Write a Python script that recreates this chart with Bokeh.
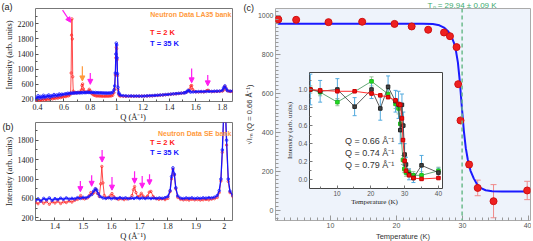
from bokeh.plotting import figure
from bokeh.models import (Range1d, GridBox, Arrow, NormalHead, Label, Legend, LegendItem,
                          ColumnDataSource, Whisker, TeeHead, Span, FixedTicker)
from bokeh.embed import file_html
from bokeh.resources import INLINE

# ---------------- data: panel (a) LA35 bank ----------------
a_blue_q = [
    0.385, 0.395, 0.405, 0.415, 0.425, 0.435, 0.445, 0.455, 0.465, 0.475,
    0.485, 0.495, 0.505, 0.515, 0.525, 0.535, 0.545, 0.555, 0.565, 0.575,
    0.585, 0.595, 0.61, 0.62, 0.63, 0.64, 0.65, 0.66, 0.67, 0.68,
    0.69, 0.70, 0.71, 0.72, 0.73, 0.74, 0.75, 0.76, 0.77, 0.78,
    0.79, 0.80, 0.81, 0.82, 0.83, 0.84, 0.85, 0.86, 0.87, 0.88,
    0.89, 0.90, 0.91, 0.92, 0.93, 0.94, 0.95, 0.96, 0.97, 0.98,
    0.985, 0.990, 0.994, 0.997, 1.000, 1.003, 1.006, 1.010, 1.015, 1.02,
    1.03, 1.05, 1.07, 1.09, 1.11, 1.13, 1.15, 1.17, 1.19, 1.21,
    1.23, 1.25, 1.27, 1.29, 1.31, 1.33, 1.35, 1.37, 1.39, 1.41,
    1.43, 1.45, 1.47, 1.49, 1.51, 1.52, 1.53, 1.54, 1.55, 1.56,
    1.58, 1.60, 1.62, 1.64, 1.66, 1.68, 1.70, 1.72, 1.74, 1.76,
    1.78, 1.80, 1.81, 1.82, 1.83, 1.84, 1.86, 1.88]
a_blue_I = [
    260, 210, 300, 230, 280, 240, 310, 250, 290, 270,
    320, 260, 300, 285, 330, 290, 320, 300, 345, 310,
    340, 330, 350, 345, 365, 350, 372, 360, 375, 368,
    380, 372, 385, 375, 382, 378, 390, 380, 386, 392,
    384, 390, 380, 388, 378, 384, 375, 380, 372, 378,
    370, 375, 368, 372, 366, 372, 370, 375, 390, 450,
    560, 900, 1400, 1690, 1640, 1300, 880, 520, 380, 340,
    310, 300, 295, 290, 295, 288, 292, 290, 288, 292,
    295, 300, 302, 308, 312, 318, 322, 330, 335, 342,
    350, 355, 362, 368, 375, 382, 400, 440, 430, 395,
    400, 405, 408, 410, 408, 412, 415, 412, 418, 420,
    422, 440, 510, 560, 480, 430, 420, 425]
a_red_q = [
    0.385, 0.395, 0.405, 0.415, 0.425, 0.435, 0.445, 0.455, 0.465, 0.475,
    0.485, 0.495, 0.505, 0.515, 0.525, 0.535, 0.545, 0.555, 0.565, 0.575,
    0.585, 0.595, 0.605, 0.615, 0.625, 0.635, 0.645, 0.651, 0.655, 0.658,
    0.661, 0.664, 0.667, 0.671, 0.676, 0.685, 0.695, 0.705, 0.715, 0.725,
    0.732, 0.737, 0.742, 0.748, 0.755, 0.765, 0.775, 0.785, 0.792, 0.80,
    0.81, 0.82, 0.83, 0.84, 0.85, 0.86, 0.87, 0.88, 0.89, 0.90,
    0.91, 0.92, 0.93, 0.94, 0.95, 0.96, 0.97, 0.98, 0.985, 0.990,
    0.994, 0.997, 1.000, 1.003, 1.006, 1.010, 1.015, 1.02, 1.03, 1.05,
    1.07, 1.09, 1.11, 1.13, 1.15, 1.17, 1.19, 1.21, 1.23, 1.25,
    1.27, 1.29, 1.31, 1.33, 1.35, 1.37, 1.39, 1.41, 1.43, 1.45,
    1.47, 1.49, 1.51, 1.53, 1.545, 1.555, 1.562, 1.568, 1.575, 1.585,
    1.60, 1.62, 1.64, 1.66, 1.675, 1.685, 1.692, 1.70, 1.72, 1.74,
    1.76, 1.78, 1.80, 1.81, 1.818, 1.826, 1.835, 1.85, 1.865, 1.88]
a_red_I = [
    170, 150, 200, 160, 190, 170, 215, 180, 205, 195,
    225, 200, 235, 215, 240, 225, 255, 235, 260, 250,
    270, 265, 285, 275, 300, 295, 320, 360, 900, 1900,
    2330, 1800, 800, 420, 370, 385, 372, 390, 380, 400,
    450, 570, 610, 480, 410, 395, 390, 420, 470, 430,
    360, 330, 310, 300, 290, 296, 288, 292, 285, 290,
    284, 290, 286, 288, 292, 295, 310, 380, 480, 850,
    1300, 1580, 1540, 1250, 830, 460, 340, 300, 290, 285,
    282, 286, 283, 288, 284, 286, 290, 288, 292, 295,
    298, 304, 308, 314, 318, 326, 330, 338, 344, 350,
    358, 365, 375, 395, 430, 480, 560, 570, 470, 420,
    402, 398, 405, 400, 415, 435, 445, 425, 408, 410,
    412, 415, 420, 450, 540, 510, 440, 418, 412, 415]
a_arrow_x0 = [0.59, 0.80, 1.568, 1.69]
a_arrow_y0 = [2560, 900, 1020, 850]
a_arrow_x1 = [0.651, 0.80, 1.568, 1.69]
a_arrow_y1 = [2240, 600, 640, 560]
a_orange_x = [0.74]
a_orange_y0 = [1080]
a_orange_y1 = [690]
a_xticks = [0.4, 0.6, 0.8, 1.0, 1.2, 1.4, 1.6, 1.8]
a_xlabels = ["0.4", "0.6", "0.8", "1", "1.2", "1.4", "1.6", "1.8"]
a_xminor = [0.5, 0.7, 0.9, 1.1, 1.3, 1.5, 1.7]
a_yticks = [200, 600, 1000, 1400, 1800, 2200]
a_yminor = [400, 800, 1200, 1600, 2000, 2400]

# ---------------- data: panel (b) SE bank ----------------
b_blue_q = [
    1.331, 1.34, 1.35, 1.36, 1.37, 1.38, 1.39, 1.40, 1.41, 1.42,
    1.43, 1.44, 1.45, 1.46, 1.47, 1.48, 1.49, 1.50, 1.51, 1.52,
    1.53, 1.537, 1.543, 1.548, 1.553, 1.56, 1.57, 1.58, 1.59, 1.60,
    1.61, 1.62, 1.63, 1.64, 1.65, 1.66, 1.67, 1.68, 1.69, 1.70,
    1.71, 1.72, 1.73, 1.74, 1.75, 1.76, 1.77, 1.78, 1.79, 1.80,
    1.808, 1.813, 1.818, 1.823, 1.828, 1.835, 1.845, 1.855, 1.865, 1.875,
    1.885, 1.895, 1.905, 1.915, 1.925, 1.935, 1.945, 1.955, 1.965, 1.975,
    1.982, 1.988, 1.993, 1.998, 2.003, 2.008, 2.014, 2.02, 2.03]
b_blue_I = [
    560, 590, 545, 600, 570, 610, 560, 595, 575, 605,
    580, 610, 585, 600, 590, 615, 600, 620, 610, 640,
    680, 750, 800, 770, 700, 640, 610, 600, 615, 595,
    610, 598, 615, 600, 612, 595, 608, 600, 615, 598,
    610, 600, 612, 598, 608, 600, 610, 602, 615, 640,
    760, 1050, 1230, 1100, 820, 650, 605, 598, 610, 600,
    612, 598, 608, 600, 612, 605, 615, 610, 625, 660,
    760, 1000, 1600, 2400, 2600, 1800, 1000, 750, 660]
b_red_q = [
    1.331, 1.34, 1.35, 1.36, 1.37, 1.38, 1.39, 1.40, 1.41, 1.42,
    1.43, 1.44, 1.45, 1.46, 1.47, 1.48, 1.486, 1.491, 1.497, 1.505,
    1.515, 1.522, 1.527, 1.532, 1.538, 1.545, 1.551, 1.557, 1.562, 1.566,
    1.570, 1.575, 1.582, 1.590, 1.597, 1.602, 1.608, 1.615, 1.625, 1.635,
    1.645, 1.655, 1.665, 1.673, 1.678, 1.682, 1.687, 1.693, 1.700, 1.706,
    1.712, 1.720, 1.728, 1.734, 1.740, 1.748, 1.758, 1.768, 1.778, 1.790,
    1.800, 1.808, 1.813, 1.818, 1.823, 1.828, 1.835, 1.845, 1.855, 1.865,
    1.875, 1.885, 1.895, 1.905, 1.915, 1.925, 1.935, 1.945, 1.955, 1.965,
    1.975, 1.982, 1.988, 1.993, 1.998, 2.003, 2.008, 2.014, 2.02, 2.03]
b_red_I = [
    520, 490, 545, 500, 535, 480, 530, 505, 540, 495,
    530, 515, 545, 525, 560, 580, 610, 660, 600, 590,
    610, 660, 720, 690, 720, 790, 700, 640, 900, 1260,
    920, 660, 610, 620, 660, 700, 640, 600, 580, 595,
    575, 590, 600, 660, 780, 845, 720, 630, 650, 705,
    650, 610, 650, 730, 745, 640, 595, 580, 590, 575,
    600, 740, 1000, 1200, 1080, 800, 620, 580, 570, 575,
    565, 580, 570, 575, 565, 572, 578, 570, 585, 595,
    620, 720, 960, 1550, 2300, 2500, 1700, 950, 720, 640]
b_arrow_x = [1.49, 1.53, 1.567, 1.602, 1.682, 1.709, 1.735]
b_arrow_y0 = [960, 1080, 1600, 1040, 1160, 1060, 1100]
b_arrow_y1 = [740, 850, 1350, 770, 910, 810, 880]
b_xticks = [1.4, 1.5, 1.6, 1.7, 1.8, 1.9, 2.0]
b_xlabels = ["1.4", "1.5", "1.6", "1.7", "1.8", "1.9", "2"]
b_xminor = [1.35, 1.45, 1.55, 1.65, 1.75, 1.85, 1.95]
b_yticks = [200, 600, 1000, 1400, 1800]
b_yminor = [400, 800, 1200, 1600, 2000]

# ---------------- data: panel (c) ----------------
c_T = [2.1, 4.8, 9.7, 14.8, 19.7, 22.3, 24.8, 27.2, 28.1, 29.1, 29.35, 29.7, 31.0, 32.3, 34.7, 39.8]
c_I = [980, 978, 966, 968, 957, 944, 927, 913, 894, 838, 648, 462, 236, 116, 48, 103]
c_err = [0, 0, 0, 0, 0, 0, 0, 0, 0, 0, 0, 10, 14, 40, 85, 47]
fit_T = [2, 24, 25.5, 26.5, 27.2, 27.8, 28.3, 28.7, 29.0, 29.3, 29.6, 29.9, 30.2, 30.5,
         30.8, 31.2, 31.7, 32.2, 32.8, 33.5, 34.5, 36, 40]
fit_I = [958, 958, 956, 950, 938, 920, 895, 860, 820, 760, 660, 530, 410, 320,
         262, 205, 165, 135, 115, 104, 99, 98, 98]
T_N = 29.94
c_xticks = [10, 20, 30, 40]
c_xminor = [2, 3, 4, 5, 6, 7, 8, 9, 11, 12, 13, 14, 15, 16, 17, 18, 19, 21, 22, 23, 24, 25, 26, 27, 28, 29,
            31, 32, 33, 34, 35, 36, 37, 38, 39]
c_yticks = [0, 200, 400, 600, 800, 1000]
c_yminor = [-40, -20, 20, 40, 60, 80, 100, 120, 140, 160, 180, 220, 240, 260, 280, 300, 320, 340, 360, 380,
            420, 440, 460, 480, 500, 520, 540, 560, 580, 620, 640, 660, 680, 700, 720, 740, 760, 780,
            820, 840, 860, 880, 900, 920, 940, 960, 980, 1020]

# inset: normalised intensities
r_T = [2.1, 5.0, 10.1, 15.2, 20.2, 22.8, 25.1, 27.3, 28.2, 28.7, 29.2, 29.5, 30.0, 30.4, 31.3, 32.6, 35.0, 40.0]
r_v = [1.00, 0.99, 0.98, 0.98, 0.955, 0.935, 0.915, 0.88, 0.84, 0.83, 0.68, 0.44, 0.21, 0.10, 0.05, 0.02, 0.01, 0.02]
g_T = [2.1, 5.0, 10.1, 20.2, 25.1, 27.3, 28.2, 28.7, 29.5, 29.9, 30.4, 31.3, 32.6, 35.0, 40.0]
g_v = [1.00, 0.97, 0.86, 1.09, 0.95, 0.84, 0.79, 0.62, 0.22, 0.12, 0.08, 0.08, 0.05, 0.05, 0.10]
g_e = [0.04, 0.04, 0.04, 0.05, 0.05, 0.05, 0.06, 0.06, 0.05, 0.04, 0.04, 0.04, 0.04, 0.04, 0.04]
k_T = [2.1, 5.0, 10.1, 15.2, 20.2, 22.8, 25.1, 27.3, 28.2, 28.7, 29.2, 29.6, 30.0, 30.4, 31.3, 32.6, 35.0, 40.0]
k_v = [1.00, 0.98, 1.00, 0.81, 1.00, 0.79, 1.03, 0.87, 0.83, 0.55, 0.83, 0.60, 0.28, 0.17, 0.06, 0.02, 0.16, 0.08]
k_e = [0.17, 0.12, 0.12, 0.10, 0.10, 0.13, 0.12, 0.12, 0.15, 0.15, 0.12, 0.15, 0.12, 0.08, 0.06, 0.05, 0.11, 0.05]
i_xticks = [10, 20, 30, 40]
i_xminor = [5, 15, 25, 35]
i_yticks = [0.0, 0.2, 0.4, 0.6, 0.8, 1.0]
i_ylabels = ["0.0", "0.2", "0.4", "0.6", "0.8", "1.0"]
i_yminor = [0.1, 0.3, 0.5, 0.7, 0.9, 1.1]

RED = "#ff2020"
BLUE = "#1515ff"
MAG = "#ff1cf0"
ORANGE = "#ff9a3c"
SERIF = "Liberation Serif"
SANS = "Liberation Sans"
PAGE_W, PAGE_H = 531, 241


def style_axes(p, font, size, color, lsize, lcolor, tick_color, tin=3, mtin=2):
    for ax in (p.xaxis, p.yaxis):
        ax.major_label_text_font = font
        ax.major_label_text_font_size = size
        ax.major_label_text_color = color
        ax.axis_label_text_font = font
        ax.axis_label_text_font_size = lsize
        ax.axis_label_text_font_style = "normal"
        ax.axis_label_text_color = lcolor
        ax.axis_label_standoff = 1
        ax.major_label_standoff = 2
        ax.major_tick_in = tin
        ax.major_tick_out = 0
        ax.minor_tick_in = mtin
        ax.minor_tick_out = 0
        ax.axis_line_color = None
        ax.major_tick_line_color = tick_color
        ax.minor_tick_line_color = tick_color
    p.xgrid.visible = False
    p.ygrid.visible = False


def q_panel(xr, yr, xt, xl, xm, yt, ym, rq, ri, bq, bi, h, top, bottom):
    p = figure(width=240, height=h, x_range=Range1d(*xr), y_range=Range1d(*yr),
               output_backend="svg", toolbar_location=None,
               min_border_left=33, min_border_right=8, min_border_top=top, min_border_bottom=bottom)
    p.xaxis.ticker = FixedTicker(ticks=xt, minor_ticks=xm)
    p.xaxis.major_label_overrides = {t: l for t, l in zip(xt, xl)}
    p.yaxis.ticker = FixedTicker(ticks=yt, minor_ticks=ym)
    style_axes(p, SERIF, "8px", "#222", "8.5px", "#222", "#555")
    p.yaxis.axis_label = "Intensity (arb. units)"
    p.outline_line_color = "#777"
    p.line(rq, ri, color=RED, line_width=1, line_alpha=0.8)
    p.scatter(rq, ri, marker="circle", size=2.4, fill_color=None, line_color=RED, line_width=0.7)
    p.line(bq, bi, color=BLUE, line_width=1.3)
    p.scatter(bq, bi, marker="circle", size=2.6, fill_color=None, line_color=BLUE, line_width=0.8)
    return p


def temp_legend(p, label, color, x, y):
    r = p.scatter(x=[], y=[], marker="circle", size=6, fill_color=None, line_color=color, line_width=1.6)
    leg = Legend(items=[LegendItem(label=label, renderers=[r])], location=(x, y),
                 label_text_color=color, label_text_font_style="bold", label_text_font=SANS,
                 label_text_font_size="7.5px", glyph_width=14, glyph_height=14, padding=0, margin=0,
                 spacing=0, label_standoff=4, label_height=10, background_fill_alpha=0, border_line_alpha=0)
    p.add_layout(leg)


# ---------------- panel (a) ----------------
pa = q_panel((0.385, 1.8775), (147, 2604), a_xticks, a_xlabels, a_xminor, a_yticks, a_yminor,
             a_red_q, a_red_I, a_blue_q, a_blue_I, 119, 8, 18)
pa.add_layout(Arrow(end=NormalHead(size=5, fill_color=MAG, line_color=MAG), line_color=MAG, line_width=1.2,
                    source=ColumnDataSource(dict(x0=a_arrow_x0, y0=a_arrow_y0, x1=a_arrow_x1, y1=a_arrow_y1)),
                    x_start="x0", y_start="y0", x_end="x1", y_end="y1"))
pa.add_layout(Arrow(end=NormalHead(size=5, fill_color=ORANGE, line_color=ORANGE), line_color=ORANGE, line_width=1.2,
                    source=ColumnDataSource(dict(x0=a_orange_x, y0=a_orange_y0, x1=a_orange_x, y1=a_orange_y1)),
                    x_start="x0", y_start="y0", x_end="x1", y_end="y1"))
temp_legend(pa, "T = 2 K", RED, 97, 62)
temp_legend(pa, "T = 35 K", BLUE, 97, 51)

# ---------------- panel (b) ----------------
pb = q_panel((1.331, 2.029), (145, 2165), b_xticks, b_xlabels, b_xminor, b_yticks, b_yminor,
             b_red_q, b_red_I, b_blue_q, b_blue_I, 122, 3, 20)
pb.add_layout(Arrow(end=NormalHead(size=5, fill_color=MAG, line_color=MAG), line_color=MAG, line_width=1.2,
                    source=ColumnDataSource(dict(x0=b_arrow_x, y0=b_arrow_y0, x1=b_arrow_x, y1=b_arrow_y1)),
                    x_start="x0", y_start="y0", x_end="x1", y_end="y1"))
temp_legend(pb, "T = 2 K", RED, 97, 71)
temp_legend(pb, "T = 35 K", BLUE, 97, 61)

# ---------------- panel (c) main ----------------
C_LEFT, C_W, C_X0, C_X1 = 275, 255, 1.67, 40.3
pc = figure(width=291, height=241, x_range=Range1d(C_X0, C_X1), y_range=Range1d(-51, 1036),
            output_backend="svg", toolbar_location=None, background_fill_color="#eef3fb",
            min_border_left=35, min_border_right=1, min_border_top=8, min_border_bottom=21)
pc.xaxis.ticker = FixedTicker(ticks=c_xticks, minor_ticks=c_xminor)
pc.yaxis.ticker = FixedTicker(ticks=c_yticks, minor_ticks=c_yminor)
style_axes(pc, SANS, "7px", "#555", "7.5px", "#333", "#999", tin=5, mtin=3)
pc.yaxis.axis_label = "√Iₘ (Q = 0.66 Å⁻¹)"
pc.outline_line_color = "#aaa"
pc.add_layout(Span(location=T_N, dimension="height", line_color="#6dbb8c", line_dash="4 3", line_width=1.5))
pc.line(fit_T, fit_I, color="#1a1aff", line_width=2)
csrc = ColumnDataSource(dict(T=c_T, I=c_I, lo=[i - e for i, e in zip(c_I, c_err)], hi=[i + e for i, e in zip(c_I, c_err)]))
pc.add_layout(Whisker(source=csrc, base="T", lower="lo", upper="hi", line_color="#f08a8a", line_width=1,
                      lower_head=TeeHead(size=6, line_color="#f08a8a"), upper_head=TeeHead(size=6, line_color="#f08a8a")))
pc.scatter("T", "I", source=csrc, marker="circle", size=7, fill_color="#ee2020", line_color="#d01010")

# ---------------- inset ----------------
pin = figure(width=163, height=140, x_range=Range1d(1.85, 41.2), y_range=Range1d(-0.096, 1.188),
             output_backend="svg", toolbar_location=None, background_fill_color="white",
             border_fill_color=None,
             min_border_left=23, min_border_right=4, min_border_top=2, min_border_bottom=22)
pin.xaxis.ticker = FixedTicker(ticks=i_xticks, minor_ticks=i_xminor)
pin.yaxis.ticker = FixedTicker(ticks=i_yticks, minor_ticks=i_yminor)
pin.yaxis.major_label_overrides = {t: l for t, l in zip(i_yticks, i_ylabels)}
style_axes(pin, SANS, "6.5px", "#555", "7px", "#222", "#777")
pin.yaxis.axis_label_text_font = SERIF
pin.yaxis.axis_label = "Intensity (arb. units)"
pin.outline_line_color = "#444"

ksrc = ColumnDataSource(dict(T=k_T, v=k_v, lo=[a - b for a, b in zip(k_v, k_e)], hi=[a + b for a, b in zip(k_v, k_e)]))
gsrc = ColumnDataSource(dict(T=g_T, v=g_v, lo=[a - b for a, b in zip(g_v, g_e)], hi=[a + b for a, b in zip(g_v, g_e)]))
pin.add_layout(Whisker(source=gsrc, base="T", lower="lo", upper="hi", line_color="#9cbf9c", line_width=1,
                       lower_head=TeeHead(size=4, line_color="#9cbf9c"), upper_head=TeeHead(size=4, line_color="#9cbf9c")))
pin.add_layout(Whisker(source=ksrc, base="T", lower="lo", upper="hi", line_color="#52aade", line_width=1,
                       lower_head=TeeHead(size=4, line_color="#52aade"), upper_head=TeeHead(size=4, line_color="#52aade")))
pin.line("T", "v", source=gsrc, color="#3f8f55", line_width=0.8)
pin.scatter("T", "v", source=gsrc, marker="square", size=3.5, fill_color="#22dd22", line_color="#22bb22")
pin.line("T", "v", source=ksrc, color="#333333", line_width=0.8)
pin.scatter("T", "v", source=ksrc, marker="square", size=3.5, fill_color="#444444", line_color="#222222")
pin.line(r_T, r_v, color="#ff3030", line_width=1)
pin.scatter(r_T, r_v, marker="square", size=3.5, fill_color="#ee1111", line_color="#cc0000")


def q_legend(p, label, fill, edge, line, y):
    rl = p.line(x=[], y=[], color=line, line_width=1.5)
    rc = p.scatter(x=[], y=[], marker="circle", fill_color=fill, line_color=edge, line_width=0.8)
    leg = Legend(items=[LegendItem(label=label, renderers=[rl, rc])], location=(9, y),
                 label_text_color="#333", label_text_font=SANS, label_text_font_size="9px",
                 glyph_width=22, glyph_height=22, padding=0, margin=0, spacing=0, label_standoff=5,
                 background_fill_alpha=0, border_line_alpha=0)
    p.add_layout(leg)


q_legend(pin, "Q = 0.66 Å⁻¹", "#ee2222", "#cc1111", "#ff2a2a", 37)
q_legend(pin, "Q = 0.74 Å⁻¹", "#22ee22", "#3a8a4a", "#3f8f55", 25)
q_legend(pin, "Q = 0.79 Å⁻¹", "#777777", "#222222", "#222222", 13)

# ---------------- transparent overlay carrying the free-standing texts ----------------
ov = figure(width=PAGE_W, height=PAGE_H, x_range=Range1d(0, PAGE_W), y_range=Range1d(0, PAGE_H),
            x_axis_type=None, y_axis_type=None, output_backend="svg", toolbar_location=None,
            min_border=0, min_border_left=0, min_border_right=0, min_border_top=0, min_border_bottom=0,
            background_fill_color=None, border_fill_color=None, outline_line_color=None)
ov.grid.visible = False


def page_text(text, x, y, size, color, font=SANS, align="left", style="normal"):
    ov.add_layout(Label(x=x, y=PAGE_H - y, x_units="screen", y_units="screen", text=text,
                        text_align=align, text_baseline="middle", text_font=font,
                        text_font_size=size, text_color=color, text_font_style=style))


tn_x = C_LEFT + (T_N - C_X0) / (C_X1 - C_X0) * C_W
page_text("(a)", 1, 6, "9px", "#222")
page_text("(b)", 2, 126, "9px", "#222")
page_text("(c)", 243, 7, "9px", "#222")
page_text("Neutron Data LA35 bank", 231, 14, "7px", ORANGE, align="right", style="bold")
page_text("Neutron Data SE bank", 231, 132.5, "7px", ORANGE, align="right", style="bold")
page_text("Q (Å⁻¹)", 132.5, 116, "8.5px", "#222", font=SERIF, align="center")
page_text("Q (Å⁻¹)", 132.5, 235.5, "8.5px", "#222", font=SERIF, align="center")
page_text("Temperature (K)", 402.5, 235.5, "7.5px", "#333", align="center")
page_text("Temperature (K)", 374, 201.5, "7px", "#222", font=SERIF, align="center")
page_text("Tₙ = 29.94 ± 0.09 K", tn_x, 4.5, "8px", "#3daa6e", align="center")

inner = GridBox(children=[(pa, 0, 0, 2, 1), (pb, 2, 0, 2, 1), (pc, 0, 1, 4, 3), (pin, 1, 2, 2, 1)],
                rows=["70px", "49px", "91px", "31px"], cols=["240px", "43px", "163px", "85px"], spacing=0)
grid = GridBox(children=[(inner, 0, 0), (ov, 0, 0)], rows=["241px"], cols=["531px"], spacing=0)

open("out.html", "w").write(file_html(grid, INLINE))
